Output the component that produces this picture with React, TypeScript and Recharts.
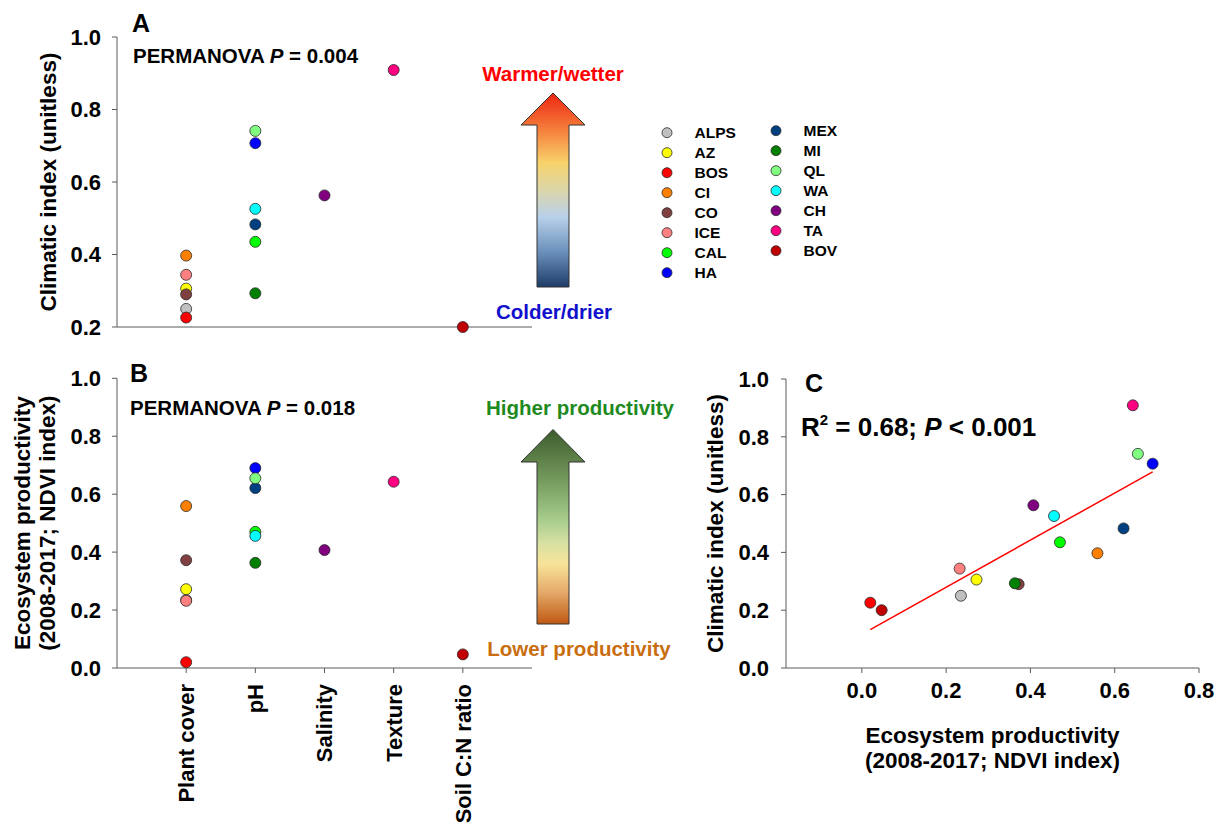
import React from 'react';
import { ScatterChart, Scatter, XAxis, YAxis } from 'recharts';

const FONT = '"Liberation Sans", Arial, Helvetica, sans-serif';

// sites in drawing / legend order
const SITES = ['ALPS', 'AZ', 'BOS', 'CI', 'CO', 'ICE', 'CAL', 'HA', 'MEX', 'MI', 'QL', 'WA', 'CH', 'TA', 'BOV'];
const SITE_COLORS = [
  '#c0c0c0', '#ffff00', '#ff0000', '#ff8000', '#804040', '#ff8080', '#00ff00', '#0000ff',
  '#004080', '#008000', '#80ff80', '#00ffff', '#800080', '#ff0080', '#c00000',
];
// soil driver explaining each site
const DRIVERS = ['Plant cover', 'pH', 'Salinity', 'Texture', 'Soil C:N ratio'];
const SITE_DRIVER = [
  'Plant cover', 'Plant cover', 'Plant cover', 'Plant cover', 'Plant cover', 'Plant cover',
  'pH', 'pH', 'pH', 'pH', 'pH', 'pH', 'Salinity', 'Texture', 'Soil C:N ratio',
];
const CLIMATIC = [0.25, 0.306, 0.226, 0.397, 0.29, 0.344, 0.435, 0.707, 0.483, 0.293, 0.741, 0.526, 0.563, 0.909, 0.2];
const PRODUCTIVITY = [0.235, 0.272, 0.02, 0.559, 0.372, 0.232, 0.47, 0.69, 0.621, 0.363, 0.655, 0.456, 0.407, 0.643, 0.047];

const CLIMATE_TICKS = [0.2, 0.4, 0.6, 0.8, 1.0];
const CLIMATE_TICKS_C = [0, 0.2, 0.4, 0.6, 0.8, 1.0];
const NDVI_TICKS = [0, 0.2, 0.4, 0.6, 0.8, 1.0];
const NDVI_X_TICKS = [0, 0.2, 0.4, 0.6, 0.8];
const DRIVER_TICKS = [1, 2, 3, 4, 5];

const WARM_STOPS: [number, string][] = [
  [0, '#ee2510'], [0.2, '#f5843f'], [0.36, '#f8d26a'], [0.5, '#dcd6aa'],
  [0.64, '#b8d0ea'], [0.82, '#6a90ba'], [1, '#1e3c68'],
];
const PROD_STOPS: [number, string][] = [
  [0, '#3d5c2c'], [0.3, '#7ea466'], [0.47, '#a8cd8d'], [0.58, '#d6e0a2'],
  [0.69, '#f8e499'], [0.84, '#e4a868'], [1, '#bf5812'],
];

const axisColor = '#5a5a5a';
const tickStyle = { fontSize: 22, fontWeight: 700, fill: '#000', fontFamily: FONT };
const titleStyle = { fontSize: 22.5, fontWeight: 700, fill: '#000', fontFamily: FONT };

const driverIndex = (d: string) => DRIVERS.indexOf(d) + 1;

function fitLine(xs: number[], ys: number[]) {
  const n = xs.length;
  const mx = xs.reduce((a, b) => a + b, 0) / n;
  const my = ys.reduce((a, b) => a + b, 0) / n;
  let sxy = 0;
  let sxx = 0;
  xs.forEach((x, i) => {
    sxy += (x - mx) * (ys[i] - my);
    sxx += (x - mx) * (x - mx);
  });
  const slope = sxy / sxx;
  const icpt = my - slope * mx;
  const lo = Math.min(...xs);
  const hi = Math.max(...xs);
  return [
    { x: lo, y: icpt + slope * lo },
    { x: hi, y: icpt + slope * hi },
  ];
}

const siteDot = (color: string) => (p: any) => (
  <circle cx={p.cx} cy={p.cy} r={5.5} fill={color} stroke="#2a2a2a" strokeWidth={0.8} />
);

// rotated y-axis title, one or more lines
const yTitle = (lines: string[], cx: number, gap = 25) => (props: any) => {
  const vb = props.viewBox || {};
  const cy = vb.y + vb.height / 2;
  return (
    <g>
      {lines.map((t, i) => {
        const x = cx + i * gap;
        return (
          <text key={t} x={x} y={cy} transform={`rotate(-90 ${x} ${cy})`} textAnchor="middle"
            dominantBaseline="central" style={titleStyle}>
            {t}
          </text>
        );
      })}
    </g>
  );
};

const xTitle = (lines: string[], dy: number, gap = 25) => (props: any) => {
  const vb = props.viewBox || {};
  const cx = vb.x + vb.width / 2;
  return (
    <g>
      {lines.map((t, i) => (
        <text key={t} x={cx} y={vb.y + dy + i * gap} textAnchor="middle" dominantBaseline="central" style={titleStyle}>
          {t}
        </text>
      ))}
    </g>
  );
};

const DriverTick = ({ x, y, payload }: any) => (
  <text x={0} y={0} dy="0.36em" textAnchor="end" transform={`translate(${x},${y}) rotate(-90)`} style={tickStyle}>
    {DRIVERS[payload.value - 1]}
  </text>
);

const fmt1 = (v: number) => v.toFixed(1);

const byDriver = (values: number[], i: number) => [{ x: driverIndex(SITE_DRIVER[i]), y: values[i] }];

const Arrow = ({ id, top, headBase, bottom, stops }: { id: string; top: number; headBase: number; bottom: number; stops: [number, string][] }) => {
  const cx = 553;
  const pts = [
    [cx, top], [cx + 32, headBase], [cx + 16, headBase], [cx + 16, bottom],
    [cx - 16, bottom], [cx - 16, headBase], [cx - 32, headBase],
  ].map((p) => p.join(',')).join(' ');
  return (
    <g>
      <defs>
        <linearGradient id={id} x1="0" y1="0" x2="0" y2="1">
          {stops.map(([o, c]) => <stop key={o} offset={o} stopColor={c} />)}
        </linearGradient>
      </defs>
      <polygon points={pts} fill={`url(#${id})`} stroke="#333" strokeWidth={1} />
    </g>
  );
};

const boldText = { fontWeight: 700, fontFamily: FONT } as const;

const Overlay = () => (
  <svg width={1223} height={828} style={{ position: 'absolute', left: 0, top: 0, pointerEvents: 'none' }}>
    {/* panel A annotations */}
    <text x={132} y={32} style={{ ...boldText, fontSize: 25 }}>A</text>
    <text x={133} y={63} style={{ ...boldText, fontSize: 20.5 }}>
      PERMANOVA <tspan fontStyle="italic">P</tspan> = 0.004
    </text>
    <text x={553} y={81} textAnchor="middle" style={{ ...boldText, fontSize: 20.5, fill: '#ff0000' }}>Warmer/wetter</text>
    <Arrow id="warm" top={93} headBase={125} bottom={287} stops={WARM_STOPS} />
    <text x={554} y={319} textAnchor="middle" style={{ ...boldText, fontSize: 20.5, fill: '#1010cc' }}>Colder/drier</text>

    {/* site legend, two columns */}
    {SITES.map((s, i) => {
      const col = i < 8 ? 0 : 1;
      const row = col === 0 ? i : i - 8;
      const mx = col === 0 ? 667 : 776;
      const cy = (col === 0 ? 132.7 : 130.7) + row * 20;
      return (
        <g key={s}>
          <circle cx={mx} cy={cy} r={5} fill={SITE_COLORS[i]} stroke="#2a2a2a" strokeWidth={0.8} />
          <text x={mx + 27.5} y={cy + 5.5} style={{ ...boldText, fontSize: 15.5 }}>{s}</text>
        </g>
      );
    })}

    {/* panel B annotations */}
    <text x={130} y={382} style={{ ...boldText, fontSize: 25 }}>B</text>
    <text x={130} y={415} style={{ ...boldText, fontSize: 20.5 }}>
      PERMANOVA <tspan fontStyle="italic">P</tspan> = 0.018
    </text>
    <text x={580} y={415} textAnchor="middle" style={{ ...boldText, fontSize: 20.5, fill: '#1e8a1e' }}>Higher productivity</text>
    <Arrow id="prod" top={429.5} headBase={462} bottom={624} stops={PROD_STOPS} />
    <text x={579} y={656} textAnchor="middle" style={{ ...boldText, fontSize: 20.5, fill: '#c86e10' }}>Lower productivity</text>

    {/* panel C annotations */}
    <text x={805} y={392} style={{ ...boldText, fontSize: 25 }}>C</text>
    <text x={801} y={436} style={{ ...boldText, fontSize: 26 }}>
      R<tspan dy={-11} fontSize={15}>2</tspan><tspan dy={11}> = 0.68; </tspan>
      <tspan fontStyle="italic">P</tspan> &lt; 0.001
    </text>
  </svg>
);

export default function App() {
  const fit = fitLine(PRODUCTIVITY, CLIMATIC);
  return (
    <div style={{ position: 'absolute', left: 0, top: 0, width: 1223, height: 828, background: '#fff', fontFamily: FONT }}>
      {/* A: climatic index by soil driver */}
      <div style={{ position: 'absolute', left: 0, top: 0 }}>
        <ScatterChart width={560} height={340} margin={{ top: 37, right: 28, bottom: 0, left: 0 }}>
          <XAxis type="number" dataKey="x" domain={[0, 6]} ticks={DRIVER_TICKS} tick={false} height={13}
            stroke={axisColor} tickSize={5} />
          <YAxis type="number" dataKey="y" domain={[0.2, 1]} ticks={CLIMATE_TICKS} width={117} tickFormatter={fmt1}
            stroke={axisColor} tickSize={5} tickMargin={11} tick={tickStyle}
            label={yTitle(['Climatic index (unitless)'], 48)} />
          {SITES.map((s, i) => (
            <Scatter key={s} name={s} data={byDriver(CLIMATIC, i)} shape={siteDot(SITE_COLORS[i])} isAnimationActive={false} />
          ))}
        </ScatterChart>
      </div>

      {/* B: productivity by soil driver */}
      <div style={{ position: 'absolute', left: 0, top: 340 }}>
        <ScatterChart width={560} height={488} margin={{ top: 38.3, right: 28, bottom: 0, left: 0 }}>
          <XAxis type="number" dataKey="x" domain={[0, 6]} ticks={DRIVER_TICKS} height={160}
            stroke={axisColor} tickSize={5} tickMargin={11} tick={<DriverTick />} interval={0} />
          <YAxis type="number" dataKey="y" domain={[0, 1]} ticks={NDVI_TICKS} width={117} tickFormatter={fmt1}
            stroke={axisColor} tickSize={5} tickMargin={11} tick={tickStyle}
            label={yTitle(['Ecosystem productivity', '(2008-2017; NDVI index)'], 23)} />
          {SITES.map((s, i) => (
            <Scatter key={s} name={s} data={byDriver(PRODUCTIVITY, i)} shape={siteDot(SITE_COLORS[i])} isAnimationActive={false} />
          ))}
        </ScatterChart>
      </div>

      {/* C: climatic index vs productivity */}
      <div style={{ position: 'absolute', left: 690, top: 340 }}>
        <ScatterChart width={533} height={488} margin={{ top: 39, right: 24, bottom: 0, left: 0 }}>
          <XAxis type="number" dataKey="x" domain={[-0.18, 0.8]} ticks={NDVI_X_TICKS} height={160} tickFormatter={fmt1}
            stroke={axisColor} tickSize={5} tickMargin={9} tick={tickStyle} interval={0}
            label={xTitle(['Ecosystem productivity', '(2008-2017; NDVI index)'], 67)} />
          <YAxis type="number" dataKey="y" domain={[0, 1]} ticks={CLIMATE_TICKS_C} width={96} tickFormatter={fmt1}
            stroke={axisColor} tickSize={5} tickMargin={12} tick={tickStyle}
            label={yTitle(['Climatic index (unitless)'], 25.6)} />
          <Scatter data={fit} line={{ stroke: '#ff0000', strokeWidth: 1.5 }} shape={() => <g />} isAnimationActive={false} />
          {SITES.map((s, i) => (
            <Scatter key={s} name={s} data={[{ x: PRODUCTIVITY[i], y: CLIMATIC[i] }]} shape={siteDot(SITE_COLORS[i])}
              isAnimationActive={false} />
          ))}
        </ScatterChart>
      </div>

      <Overlay />
    </div>
  );
}
